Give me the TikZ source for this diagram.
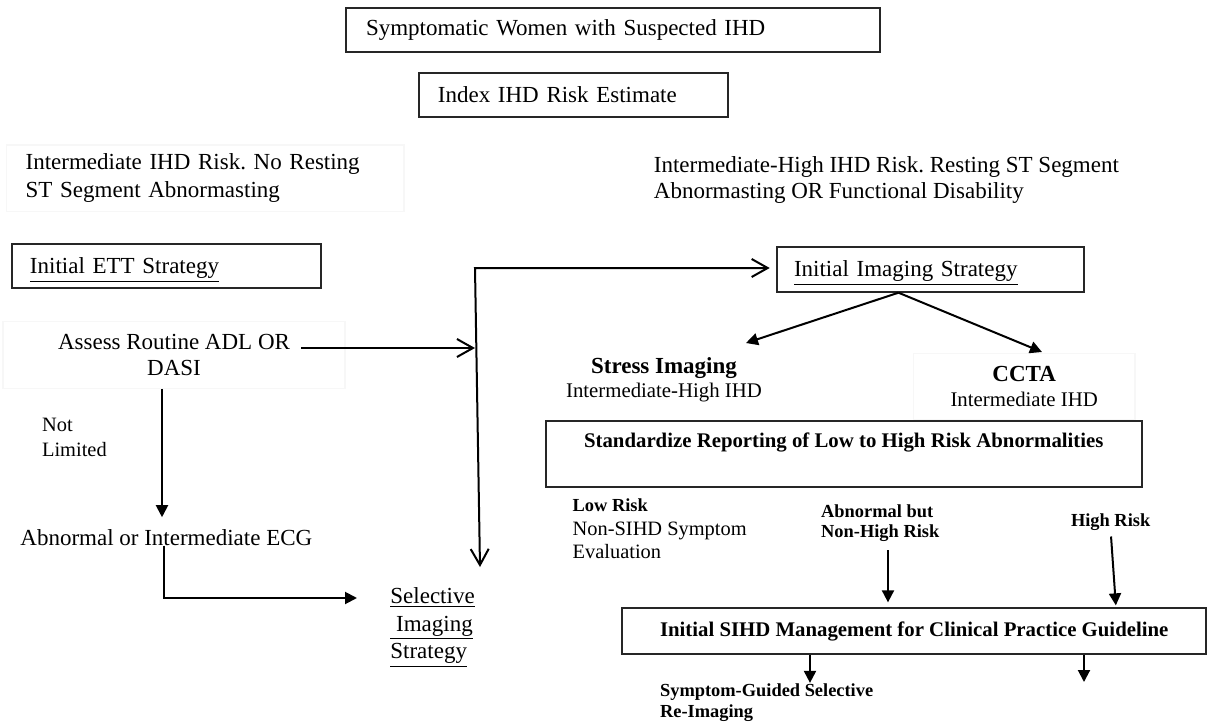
\documentclass[tikz,border=0pt]{standalone}
\usepackage{fontspec}
\setmainfont{Liberation Serif}
\usetikzlibrary{arrows.meta}
\frenchspacing

\begin{document}
\begin{tikzpicture}[x=0.5pt, y=-0.5pt,
  box/.style={draw=black!85, line width=1pt, inner sep=0pt, font=\fontsize{11.5}{14}\selectfont},
  ghost/.style={draw=black!3, line width=0.6pt, inner sep=0pt},
  lbl/.style={inner sep=0pt, font=\fontsize{11.5}{14}\selectfont},
  tag/.style={inner sep=0pt, align=left, font=\fontsize{9.2}{10}\selectfont\bfseries},
  barb/.style={arrows={-Straight Barb[length=8pt,width=9pt]}, line width=1pt},
  barbs/.style={arrows={Straight Barb[length=8pt,width=9pt]-Straight Barb[length=8pt,width=9pt]}, line width=1pt},
  arrow/.style={arrows={-Triangle[length=6pt,width=6pt]}, line width=1pt}
]
  \useasboundingbox (0,0) rectangle (1212,723);

  % Entry
  \node[box, minimum width=267pt, minimum height=22pt, text width=247pt, inner xsep=10pt, align=left] (women) at (613,30) {Symptomatic Women with Suspected IHD};
  \node[box, minimum width=154.35pt, minimum height=21.7pt, text width=135.35pt, inner xsep=9.5pt, align=left] (index) at (573.3,95) {Index IHD Risk Estimate};

  % Risk groups
  \node[ghost, lbl, minimum width=198.65pt, minimum height=33.35pt, text width=179.65pt, inner xsep=9.5pt, align=left] (riskL) at (205.3,178.3) {Intermediate IHD Risk. No Resting\\ST Segment Abnormasting};
  \node[lbl, anchor=west, align=left, font=\fontsize{11.5}{13.3}\selectfont] (riskR) at (653.5,180) {Intermediate-High IHD Risk. Resting ST Segment\\Abnormasting OR Functional Disability};

  % ETT branch
  \node[box, minimum width=154.5pt, minimum height=21.7pt, text width=136.2pt, inner xsep=9.15pt, align=left, text depth=0.5pt] (ett) at (166.2,266) {\underline{Initial ETT Strategy}};
  \node[ghost, lbl, minimum width=171pt, minimum height=33.15pt, align=center, font=\fontsize{11.5}{13.3}\selectfont] (assess) at (174,355) {Assess Routine ADL OR\\DASI};
  \node[lbl, anchor=west, align=left, font=\fontsize{10.2}{12.5}\selectfont] (notlim) at (41.7,437.5) {Not\\Limited};
  \node[lbl, anchor=west] (ecg) at (20,537.7) {Abnormal or Intermediate ECG};
  \node[lbl, anchor=west, align=left, font=\fontsize{11.5}{13.75}\selectfont] (select) at (390,627.5) {\underline{Selective}\\\underline{\ Imaging}\\\underline{Strategy}};

  % Imaging branch
  \node[box, minimum width=153.8pt, minimum height=22.2pt, text width=136.5pt, inner xsep=8.65pt, align=left, text depth=0.5pt] (imaging) at (930.5,269.5) {\underline{Initial Imaging Strategy}};
  \node[lbl, align=center, font=\fontsize{10.4}{12}\selectfont] (stress) at (664,380) {{\bfseries\fontsize{11.5}{12}\selectfont Stress Imaging}\\Intermediate-High IHD};
  \node[ghost, lbl, minimum width=110.85pt, minimum height=33.35pt, align=center, font=\fontsize{10.4}{12.6}\selectfont] (ccta) at (1024.2,386.7) {{\bfseries\fontsize{11.5}{12.6}\selectfont CCTA}\\Intermediate IHD};
  \node[box, minimum width=297.85pt, minimum height=32.9pt, text depth=13pt, font=\fontsize{10.4}{12}\selectfont\bfseries] (report) at (843.8,453.6) {Standardize Reporting of Low to High Risk Abnormalities};

  % Results
  \node[tag, anchor=west, font=\fontsize{9.2}{11.8}\selectfont\bfseries] (lowrisk) at (572.3,529) {Low Risk\\{\mdseries\fontsize{10.2}{11.8}\selectfont Non-SIHD Symptom}\\{\mdseries\fontsize{10.2}{11.8}\selectfont Evaluation}};
  \node[tag, anchor=west] (abn) at (820.8,523.3) {Abnormal but\\Non-High Risk};
  \node[tag, anchor=west] (high) at (1070.6,521.7) {High Risk};
  \node[box, minimum width=291.8pt, minimum height=22.85pt, font=\fontsize{10.4}{12}\selectfont\bfseries] (mgmt) at (914.2,631.2) {Initial SIHD Management for Clinical Practice Guideline};
  \node[tag, anchor=west, font=\fontsize{9.2}{10.8}\selectfont\bfseries] (symp) at (659.7,702.5) {Symptom-Guided Selective\\Re-Imaging};

  % Turning points
  \coordinate (crn) at (475,268);
  \coordinate (seltop) at (480,567);
  \coordinate (aout) at (301,348);
  \coordinate (adown) at (162,0);
  \coordinate (bdown) at (164,0);
  \coordinate (selin) at (357,598);
  \coordinate (apex) at ([xshift=-16pt]imaging.south);
  \coordinate (stip) at (746,343);
  \coordinate (ctip) at (1042,352);
  \coordinate (a1) at (888,0);
  \coordinate (b1) at (1116,0);
  \coordinate (c1) at (810,0);
  \coordinate (c2) at (1084,682);

  \draw[barb] (aout) -- (aout -| crn);
  \draw[barbs, shorten >=3pt] (seltop) -- (crn) -- (crn -| imaging.west);
  \draw[arrow, shorten >=6pt] (assess.south -| adown) -- (ecg.north -| adown);
  \draw[arrow] (ecg.base -| bdown) |- (selin);
  \draw[arrow] (apex) -- (stip);
  \draw[arrow] (apex) -- (ctip);
  \draw[arrow, shorten <=4pt, shorten >=2.5pt] (abn.south -| a1) -- (mgmt.north -| a1);
  \draw[arrow, shorten <=3pt, shorten >=1pt] (high.south) -- (mgmt.north -| b1);
  \draw[arrow] (mgmt.south -| c1) -- (symp.north -| c1);
  \draw[arrow] (mgmt.south -| c2) -- (c2);
\end{tikzpicture}
\end{document}
